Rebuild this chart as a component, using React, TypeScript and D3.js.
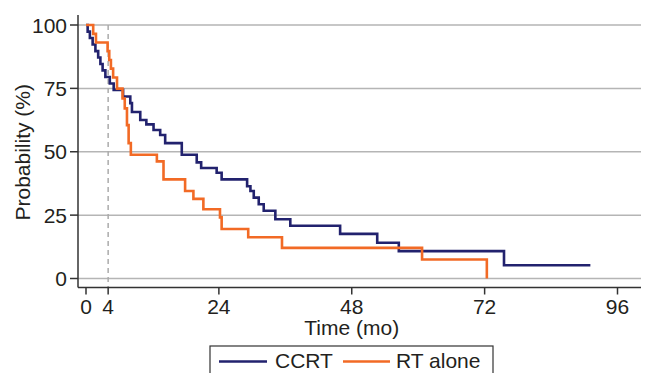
import React, { useEffect, useRef } from 'react';
import * as d3 from 'd3';

// Kaplan-Meier steps (time in months, probability in %)
const ccrtTime = [0, 0.3, 0.7, 1.2, 1.7, 2.2, 2.6, 3.0, 3.5, 4.3, 5.0, 6.7, 8.0, 8.3, 9.8, 10.9, 12.2, 13.4, 14.3, 17.3, 20.0, 20.8, 23.6, 24.5, 29.1, 29.7, 30.3, 31.2, 32.1, 34.2, 36.9, 45.9, 52.6, 56.5, 75.5, 91.1];
const ccrtSurv = [100, 97.4, 94.9, 92.3, 89.7, 87.2, 84.6, 82.1, 79.5, 76.9, 74.4, 71.8, 69.2, 65.7, 62.5, 60.8, 58.6, 56.6, 53.4, 48.8, 45.8, 43.6, 41.7, 39.1, 36.4, 34.5, 31.9, 29.3, 26.7, 23.4, 20.8, 17.6, 14.1, 10.8, 5.2, 5.2];

const rtTime = [0, 1.3, 1.8, 3.9, 4.2, 4.5, 4.9, 5.6, 6.6, 7.0, 7.4, 7.7, 8.1, 12.8, 14.0, 17.9, 19.4, 21.2, 24.2, 24.5, 29.3, 35.4, 60.7, 72.4];
const rtSurv = [100, 96.5, 93.1, 89.7, 86.2, 82.8, 79.3, 74.9, 71.0, 67.1, 60.5, 53.4, 48.8, 46.2, 39.1, 34.5, 31.4, 27.3, 24.1, 19.5, 16.3, 12.1, 7.5, 0];

const xTicks = [0, 4, 24, 48, 72, 96];
const yTicks = [0, 25, 50, 75, 100];
const landmark = 4;

const seriesNames = ['CCRT', 'RT alone'];
const seriesColors = ['#22226e', '#f26a25'];

const App: React.FC = () => {
  const svgRef = useRef<SVGSVGElement | null>(null);

  useEffect(() => {
    if (!svgRef.current) return;
    const width = 647;
    const height = 373;
    const font = '"Liberation Sans", Arial, sans-serif';
    const textColor = '#231f20';

    const plot = { left: 78, right: 641, top: 15, bottom: 287.5 };

    const x = d3.scaleLinear().domain([0, 96]).range([86, 617.5]);
    const y = d3.scaleLinear().domain([0, 100]).range([278.5, 25]);

    const svg = d3.select(svgRef.current)
      .attr('width', width)
      .attr('height', height);
    svg.selectAll('*').remove();

    svg.append('rect').attr('width', width).attr('height', height).attr('fill', '#fff');

    // horizontal grid
    svg.append('g')
      .selectAll('line')
      .data(yTicks)
      .enter()
      .append('line')
      .attr('x1', plot.left)
      .attr('x2', plot.right)
      .attr('y1', d => y(d))
      .attr('y2', d => y(d))
      .attr('stroke', '#b5b5b5')
      .attr('stroke-width', 1.5);

    // dashed landmark line at 4 months
    svg.append('line')
      .attr('x1', x(landmark))
      .attr('x2', x(landmark))
      .attr('y1', y(100))
      .attr('y2', plot.bottom)
      .attr('stroke', '#ababab')
      .attr('stroke-width', 1.5)
      .attr('stroke-dasharray', '5,4');

    // axes
    const axisColor = '#333';
    svg.append('line')
      .attr('x1', plot.left).attr('x2', plot.left)
      .attr('y1', plot.top).attr('y2', plot.bottom)
      .attr('stroke', axisColor).attr('stroke-width', 1.5);
    svg.append('line')
      .attr('x1', plot.left).attr('x2', plot.right)
      .attr('y1', plot.bottom).attr('y2', plot.bottom)
      .attr('stroke', axisColor).attr('stroke-width', 1.5);

    const yAxis = svg.append('g');
    yAxis.selectAll('line')
      .data(yTicks)
      .enter()
      .append('line')
      .attr('x1', plot.left - 8)
      .attr('x2', plot.left)
      .attr('y1', d => y(d))
      .attr('y2', d => y(d))
      .attr('stroke', axisColor)
      .attr('stroke-width', 1.5);
    yAxis.selectAll('text')
      .data(yTicks)
      .enter()
      .append('text')
      .attr('x', plot.left - 11)
      .attr('y', d => y(d) + 7.5)
      .attr('text-anchor', 'end')
      .attr('font-family', font)
      .attr('font-size', 21)
      .attr('fill', textColor)
      .text(d => d);

    const xAxis = svg.append('g');
    xAxis.selectAll('line')
      .data(xTicks)
      .enter()
      .append('line')
      .attr('x1', d => x(d))
      .attr('x2', d => x(d))
      .attr('y1', plot.bottom)
      .attr('y2', plot.bottom + 7)
      .attr('stroke', axisColor)
      .attr('stroke-width', 1.5);
    xAxis.selectAll('text')
      .data(xTicks)
      .enter()
      .append('text')
      .attr('x', d => x(d))
      .attr('y', 313.5)
      .attr('text-anchor', 'middle')
      .attr('font-family', font)
      .attr('font-size', 21)
      .attr('fill', textColor)
      .text(d => d);

    // axis titles
    svg.append('text')
      .attr('x', x(48))
      .attr('y', 334.5)
      .attr('text-anchor', 'middle')
      .attr('font-family', font)
      .attr('font-size', 21)
      .attr('fill', textColor)
      .text('Time (mo)');
    svg.append('text')
      .attr('transform', `translate(30, ${(plot.top + plot.bottom) / 2 + 1}) rotate(-90)`)
      .attr('text-anchor', 'middle')
      .attr('font-family', font)
      .attr('font-size', 21)
      .attr('fill', textColor)
      .text('Probability (%)');

    // survival curves
    const line = d3.line<[number, number]>()
      .x(d => x(d[0]))
      .y(d => y(d[1]))
      .curve(d3.curveStepAfter);

    const curves: [number, number][][] = [
      ccrtTime.map((t, i) => [t, ccrtSurv[i]] as [number, number]),
      rtTime.map((t, i) => [t, rtSurv[i]] as [number, number]),
    ];

    svg.append('g')
      .selectAll('path')
      .data(curves)
      .enter()
      .append('path')
      .attr('d', d => line(d))
      .attr('fill', 'none')
      .attr('stroke', (_, i) => seriesColors[i])
      .attr('stroke-width', 2.6)
      .attr('stroke-linejoin', 'miter');

    // legend
    const legend = svg.append('g');
    legend.append('rect')
      .attr('x', 210)
      .attr('y', 346)
      .attr('width', 283)
      .attr('height', 40)
      .attr('fill', '#fff')
      .attr('stroke', '#333')
      .attr('stroke-width', 1.2);
    const entries = [
      { x0: 219, x1: 267, tx: 275 },
      { x0: 343, x1: 390, tx: 396 },
    ];
    entries.forEach((e, i) => {
      legend.append('line')
        .attr('x1', e.x0).attr('x2', e.x1)
        .attr('y1', 361.5).attr('y2', 361.5)
        .attr('stroke', seriesColors[i])
        .attr('stroke-width', 2.6);
      legend.append('text')
        .attr('x', e.tx)
        .attr('y', 367.5)
        .attr('font-family', font)
        .attr('font-size', 21)
        .attr('fill', textColor)
        .text(seriesNames[i]);
    });
  }, []);

  return (
    <svg ref={svgRef} style={{ position: 'absolute', left: 0, top: 0, display: 'block' }}></svg>
  );
};

export default App;
